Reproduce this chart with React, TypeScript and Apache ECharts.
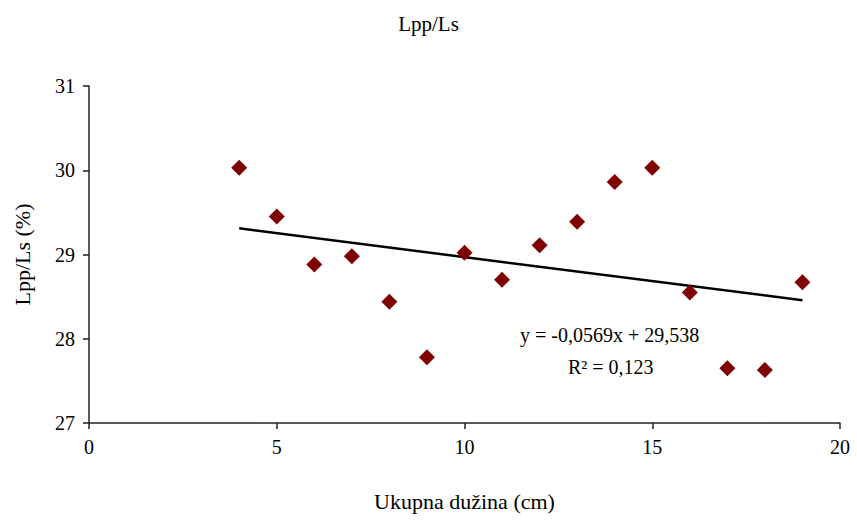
import React, { useEffect, useRef } from "react";
import * as echarts from "echarts";

const xValues = [4, 5, 6, 7, 8, 9, 10, 11, 12, 13, 14, 15, 16, 17, 18, 19];
const yValues = [30.03, 29.45, 28.88, 28.98, 28.44, 27.78, 29.02, 28.7, 29.11, 29.39, 29.86, 30.03, 28.55, 27.65, 27.63, 28.67];
const trendSlope = -0.0569;
const trendIntercept = 29.538;
const trendRange = [4, 19];
const xTicks = { min: 0, max: 20, interval: 5 };
const yTicks = { min: 27, max: 31, interval: 1 };

const FONT = "Liberation Serif";

export default function App() {
  const ref = useRef<HTMLDivElement>(null);
  useEffect(() => {
    if (!ref.current) return;
    const chart = echarts.init(ref.current, undefined, { renderer: "svg" });
    const scatterData = xValues.map((x, i) => [x, yValues[i]]);
    const trendData = trendRange.map((x) => [x, trendSlope * x + trendIntercept]);
    chart.setOption({
      animation: false,
      backgroundColor: "#ffffff",
      textStyle: { fontFamily: FONT },
      title: {
        text: "Lpp/Ls",
        left: "center",
        top: 8,
        textStyle: { fontFamily: FONT, fontSize: 21, fontWeight: "normal", color: "#000" },
      },
      grid: { left: 89, right: 17, top: 86, bottom: 99, containLabel: false },
      xAxis: {
        type: "value",
        min: xTicks.min,
        max: xTicks.max,
        interval: xTicks.interval,
        name: "Ukupna dužina (cm)",
        nameLocation: "middle",
        nameGap: 67,
        nameTextStyle: { fontFamily: FONT, fontSize: 22, color: "#000" },
        axisLine: { lineStyle: { color: "#222", width: 1.5 } },
        axisTick: { show: true, inside: false, length: 6, lineStyle: { color: "#222", width: 1.5 } },
        axisLabel: { fontFamily: FONT, fontSize: 20, color: "#000", margin: 14 },
        splitLine: { show: false },
      },
      yAxis: {
        type: "value",
        min: yTicks.min,
        max: yTicks.max,
        interval: yTicks.interval,
        name: "Lpp/Ls (%)",
        nameLocation: "middle",
        nameGap: 56,
        nameTextStyle: { fontFamily: FONT, fontSize: 22, color: "#000" },
        axisLine: { show: true, lineStyle: { color: "#222", width: 1.5 } },
        axisTick: { show: true, inside: false, length: 6, lineStyle: { color: "#222", width: 1.5 } },
        axisLabel: { fontFamily: FONT, fontSize: 20, color: "#000", margin: 14 },
        splitLine: { show: false },
      },
      series: [
        {
          type: "line",
          data: trendData,
          symbol: "none",
          lineStyle: { color: "#000", width: 2.5 },
          z: 1,
        },
        {
          type: "scatter",
          data: scatterData,
          symbol: "diamond",
          symbolSize: 16,
          itemStyle: { color: "#800000", opacity: 1 },
          z: 2,
        },
      ],
      graphic: [
        {
          type: "text",
          x: 520,
          y: 325,
          style: { text: "y = -0,0569x + 29,538", font: `20px ${FONT}`, fill: "#000" },
        },
        {
          type: "text",
          x: 568,
          y: 357,
          style: { text: "R² = 0,123", font: `20px ${FONT}`, fill: "#000" },
        },
      ],
    });
    return () => chart.dispose();
  }, []);
  return <div ref={ref} style={{ width: 857, height: 522, position: "absolute", left: 0, top: 0 }} />;
}
